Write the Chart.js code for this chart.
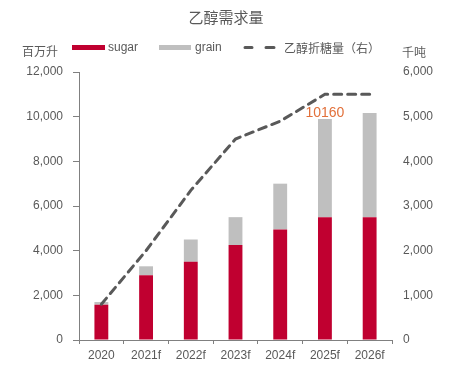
<!DOCTYPE html>
<html>
<head>
<meta charset="utf-8">
<script src="https://cdn.jsdelivr.net/npm/chart.js@4.4.1/dist/chart.umd.min.js"></script>
<style>
  html, body { margin: 0; padding: 0; background: #fff; }
  #wrap { width: 453px; height: 372px; position: relative; }
</style>
</head>
<body>
<div id="wrap"><canvas id="graf" width="453" height="372"></canvas></div>
<script>
// datos
const categorias = ["2020", "2021f", "2022f", "2023f", "2024f", "2025f", "2026f"];
const sugar = [1580, 2900, 3500, 4250, 4950, 5500, 5500];
const grain = [120, 400, 1000, 1250, 2050, 4400, 4660];
const azucarEq = [800, 2000, 3350, 4500, 4900, 5500, 5500];
const etiquetas = [null, null, null, null, null, "10160", null];

const ticksIzq = [0, 2000, 4000, 6000, 8000, 10000, 12000];
const ticksDer = [0, 1000, 2000, 3000, 4000, 5000, 6000];

const GRIS_TXT = "#595959";
const CJK = "'Noto Sans CJK SC', sans-serif";
const LAT = "'Liberation Sans', Arial, sans-serif";

// --- textos: titulo, leyenda, unidades y etiqueta ---
const textos = {
    id: "textos",
    afterDraw(chart) {
        const ctx = chart.ctx;
        ctx.save();
        ctx.fillStyle = GRIS_TXT;
        ctx.textBaseline = "middle";

        ctx.font = "15px " + CJK;
        ctx.textAlign = "center";
        ctx.fillText("乙醇需求量", 226, 17);

        ctx.font = "12px " + CJK;
        ctx.textAlign = "left";
        ctx.fillText("百万升", 22, 51);
        ctx.fillText("千吨", 402, 52);

        // leyenda
        ctx.fillStyle = "#C00030";
        ctx.fillRect(72, 45, 33, 5);
        ctx.fillStyle = "#BFBFBF";
        ctx.fillRect(159, 45, 32, 5);
        ctx.strokeStyle = "#595959";
        ctx.lineWidth = 3;
        ctx.lineCap = "round";
        ctx.beginPath();
        ctx.moveTo(245, 47.5); ctx.lineTo(252, 47.5);
        ctx.moveTo(266, 47.5); ctx.lineTo(274, 47.5);
        ctx.stroke();

        ctx.fillStyle = GRIS_TXT;
        ctx.font = "12px " + LAT;
        ctx.fillText("sugar", 108, 48);
        ctx.fillText("grain", 195, 48);
        ctx.font = "12px " + CJK;
        ctx.fillText("乙醇折糖量（右）", 284, 48);

        // etiqueta sobre la barra
        const meta = chart.getDatasetMeta(2);
        ctx.fillStyle = "#E2703A";
        ctx.font = "14px " + LAT;
        ctx.textAlign = "center";
        ctx.textBaseline = "alphabetic";
        etiquetas.forEach((t, i) => {
            if (!t) return;
            const el = meta.data[i];
            ctx.fillText(t, el.x, el.y - 2);
        });
        ctx.restore();
    }
};

const fmt = v => v.toLocaleString("en-US");

new Chart(document.getElementById("graf"), {
    data: {
        labels: categorias,
        datasets: [
            {
                type: "line",
                label: "乙醇折糖量（右）",
                data: azucarEq,
                yAxisID: "yDer",
                borderColor: "#595959",
                borderWidth: 3,
                borderDash: [8, 6],
                borderCapStyle: "round",
                pointRadius: 0,
                tension: 0,
                order: 0
            },
            {
                type: "bar",
                label: "sugar",
                data: sugar,
                backgroundColor: "#C00030",
                stack: "s",
                yAxisID: "y",
                order: 1
            },
            {
                type: "bar",
                label: "grain",
                data: grain,
                backgroundColor: "#BFBFBF",
                stack: "s",
                yAxisID: "y",
                order: 1
            }
        ]
    },
    options: {
        responsive: false,
        animation: false,
        maintainAspectRatio: false,
        layout: { padding: { top: 72, left: 0, right: 0, bottom: 0 } },
        datasets: { bar: { barPercentage: 0.31, categoryPercentage: 1 } },
        plugins: {
            legend: { display: false },
            title: { display: false },
            tooltip: { enabled: false }
        },
        scales: {
            x: {
                stacked: true,
                grid: { drawOnChartArea: false, offset: true, tickLength: 4, color: "#808080" },
                border: { color: "#808080" },
                ticks: { color: GRIS_TXT, font: { family: LAT, size: 12 }, padding: 4 },
                afterFit: s => { s.height = 32; }
            },
            y: {
                position: "left",
                stacked: true,
                min: 0, max: 12000,
                afterBuildTicks: s => { s.ticks = ticksIzq.map(v => ({ value: v })); },
                grid: { drawOnChartArea: false, tickLength: 6, color: "#808080" },
                border: { color: "#808080" },
                ticks: { color: GRIS_TXT, font: { family: LAT, size: 12 }, padding: 10, callback: fmt },
                afterFit: s => { s.width = 79; }
            },
            yDer: {
                position: "right",
                min: 0, max: 6000,
                afterBuildTicks: s => { s.ticks = ticksDer.map(v => ({ value: v })); },
                grid: { display: false, drawTicks: false },
                border: { display: false },
                ticks: { color: GRIS_TXT, font: { family: LAT, size: 12 }, padding: 11, callback: fmt },
                afterFit: s => { s.width = 61; }
            }
        }
    },
    plugins: [textos]
});
</script>
</body>
</html>
